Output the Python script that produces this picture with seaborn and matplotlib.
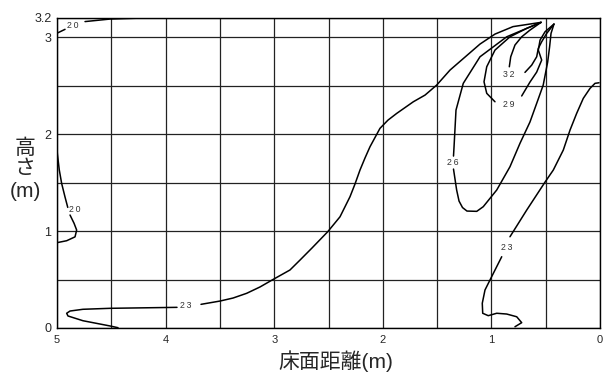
import matplotlib
matplotlib.use("Agg")
import matplotlib.pyplot as plt
import seaborn as sns

# contour segments: x = floor distance (m), y = height (m)
# level 20, top left corner
c20_top_a_x = [5.0, 4.963, 4.926]
c20_top_a_y = [3.04, 3.06, 3.08]
c20_top_b_x = [4.742, 4.512, 4.116]
c20_top_b_y = [3.16, 3.186, 3.20]

# level 20, left wall
c20_left_a_x = [5.003, 4.997, 4.979, 4.957, 4.926, 4.901]
c20_left_a_y = [1.91, 1.80, 1.63, 1.49, 1.35, 1.244]
c20_left_b_x = [4.880, 4.843, 4.819, 4.834, 4.911, 5.0]
c20_left_b_y = [1.165, 1.08, 1.01, 0.94, 0.90, 0.88]

# level 23, long curve from the floor up to the top corner
c23_big_a_x = [4.438, 4.512, 4.761, 4.899, 4.911, 4.880, 4.761, 4.512, 3.895]
c23_big_a_y = [0.003, 0.021, 0.075, 0.124, 0.152, 0.175, 0.193, 0.203, 0.213]
c23_big_b_x = [3.674, 3.499, 3.379, 3.253, 3.131, 3.008, 2.855, 2.762, 2.652,
               2.507, 2.449, 2.394, 2.302, 2.256, 2.210, 2.164, 2.118, 2.026,
               1.952, 1.872, 1.719, 1.611, 1.504, 1.381, 1.243, 1.105, 0.967,
               0.801, 0.543]
c23_big_b_y = [0.244, 0.278, 0.309, 0.358, 0.423, 0.502, 0.598, 0.701, 0.825,
               0.993, 1.072, 1.147, 1.354, 1.485, 1.629, 1.753, 1.869, 2.059,
               2.144, 2.213, 2.333, 2.402, 2.505, 2.660, 2.794, 2.928, 3.031,
               3.108, 3.152]

# level 23, right side
c23_right_a_x = [0.009, 0.046, 0.092, 0.154, 0.215, 0.276, 0.338, 0.430, 0.506,
                 0.675, 0.829]
c23_right_a_y = [2.529, 2.523, 2.471, 2.368, 2.213, 2.041, 1.835, 1.629, 1.505,
                 1.216, 0.941]
c23_right_b_x = [0.905, 1.013, 1.059, 1.084, 1.080, 1.029, 0.951, 0.859, 0.767,
                 0.721, 0.783]
c23_right_b_y = [0.735, 0.495, 0.392, 0.255, 0.152, 0.127, 0.152, 0.144, 0.116,
                 0.055, 0.013]

# level 26
c26_a_x = [0.543, 0.859, 1.105, 1.259, 1.326, 1.344, 1.349]
c26_a_y = [3.152, 3.003, 2.797, 2.523, 2.247, 1.869, 1.773]
c26_b_x = [1.349, 1.320, 1.298, 1.266, 1.225, 1.135, 1.075, 0.951, 0.829,
           0.737, 0.645, 0.571, 0.523, 0.482, 0.464, 0.451, 0.424]
c26_b_y = [1.639, 1.423, 1.309, 1.242, 1.206, 1.203, 1.251, 1.423, 1.663,
           1.904, 2.124, 2.354, 2.505, 2.742, 2.900, 3.038, 3.134]

# level 29
c29_a_x = [0.543, 0.675, 0.829, 0.967, 1.043, 1.068, 1.043, 0.967]
c29_a_y = [3.152, 3.090, 3.003, 2.866, 2.694, 2.539, 2.420, 2.333]
c29_b_x = [0.721, 0.645, 0.583, 0.537, 0.568, 0.552, 0.506, 0.424]
c29_b_y = [2.393, 2.536, 2.639, 2.763, 2.866, 2.969, 3.055, 3.134]

# level 32
c32_a_x = [0.543, 0.645, 0.721, 0.783, 0.822, 0.835]
c32_a_y = [3.152, 3.072, 3.003, 2.918, 2.797, 2.694]
c32_b_x = [0.691, 0.629, 0.583, 0.568, 0.537, 0.491, 0.424]
c32_b_y = [2.636, 2.711, 2.797, 2.884, 2.952, 3.038, 3.134]

segments = [
    (c20_top_a_x, c20_top_a_y), (c20_top_b_x, c20_top_b_y),
    (c20_left_a_x, c20_left_a_y), (c20_left_b_x, c20_left_b_y),
    (c23_big_a_x, c23_big_a_y), (c23_big_b_x, c23_big_b_y),
    (c23_right_a_x, c23_right_a_y), (c23_right_b_x, c23_right_b_y),
    (c26_a_x, c26_a_y), (c26_b_x, c26_b_y),
    (c29_a_x, c29_a_y), (c29_b_x, c29_b_y),
    (c32_a_x, c32_a_y), (c32_b_x, c32_b_y),
]

# contour labels
label_text = ['20', '20', '23', '23', '26', '29', '32']
label_x = [4.857, 4.834, 3.814, 0.863, 1.354, 0.844, 0.844]
label_y = [3.117, 1.227, 0.227, 0.835, 1.704, 2.309, 2.619]

x_ticks = [5, 4, 3, 2, 1, 0]
y_ticks = [0, 1, 2, 3, 3.2]
y_tick_labels = ['0', '1', '2', '3', '3.2']
grid_minor_x = [4.5, 3.5, 2.5, 1.5, 0.5]
grid_minor_y = [0.5, 1.5, 2.5]

sns.set_style("white")
plt.rcParams['font.family'] = ['Liberation Sans', 'Noto Sans CJK JP', 'DejaVu Sans']

fig = plt.figure(figsize=(6.05, 3.74), dpi=100)
ax = fig.add_axes([57/605, 1-328/374, 543/605, 310.3/374])

for sx, sy in segments:
    sns.lineplot(x=sx, y=sy, sort=False, estimator=None, color='black',
                 lw=1.1, ax=ax)

for t, lx, ly in zip(label_text, label_x, label_y):
    ax.text(lx, ly, '\u2009'.join(t), fontsize=6.3, color='#333333',
            ha='center', va='center')

ax.set_xlim(5, 0)
ax.set_ylim(0, 3.2)
ax.set_xticks(x_ticks)
ax.set_xticklabels([str(v) for v in x_ticks])
ax.set_xticks(grid_minor_x, minor=True)
ax.set_yticks(y_ticks)
ax.set_yticklabels(y_tick_labels)
ax.set_yticks(grid_minor_y, minor=True)
ax.grid(True, which='both', color='#222222', lw=0.9)
ax.set_axisbelow(True)
ax.tick_params(axis='both', which='both', length=0)
ax.tick_params(axis='y', labelsize=9, pad=4)
ax.tick_params(axis='x', labelsize=8, pad=5)
for s in ax.spines.values():
    s.set_color('black')
    s.set_linewidth(1.0)

fig.text(336/605, 1-361/374, '床面距離(m)', fontsize=15, ha='center',
         va='center')
for txt, yy in zip(['高', 'さ', '(m)'], [148, 168.5, 191]):
    fig.text(25/605, 1-yy/374, txt, fontsize=15, ha='center', va='center')

fig.savefig('out.png', dpi=100)
